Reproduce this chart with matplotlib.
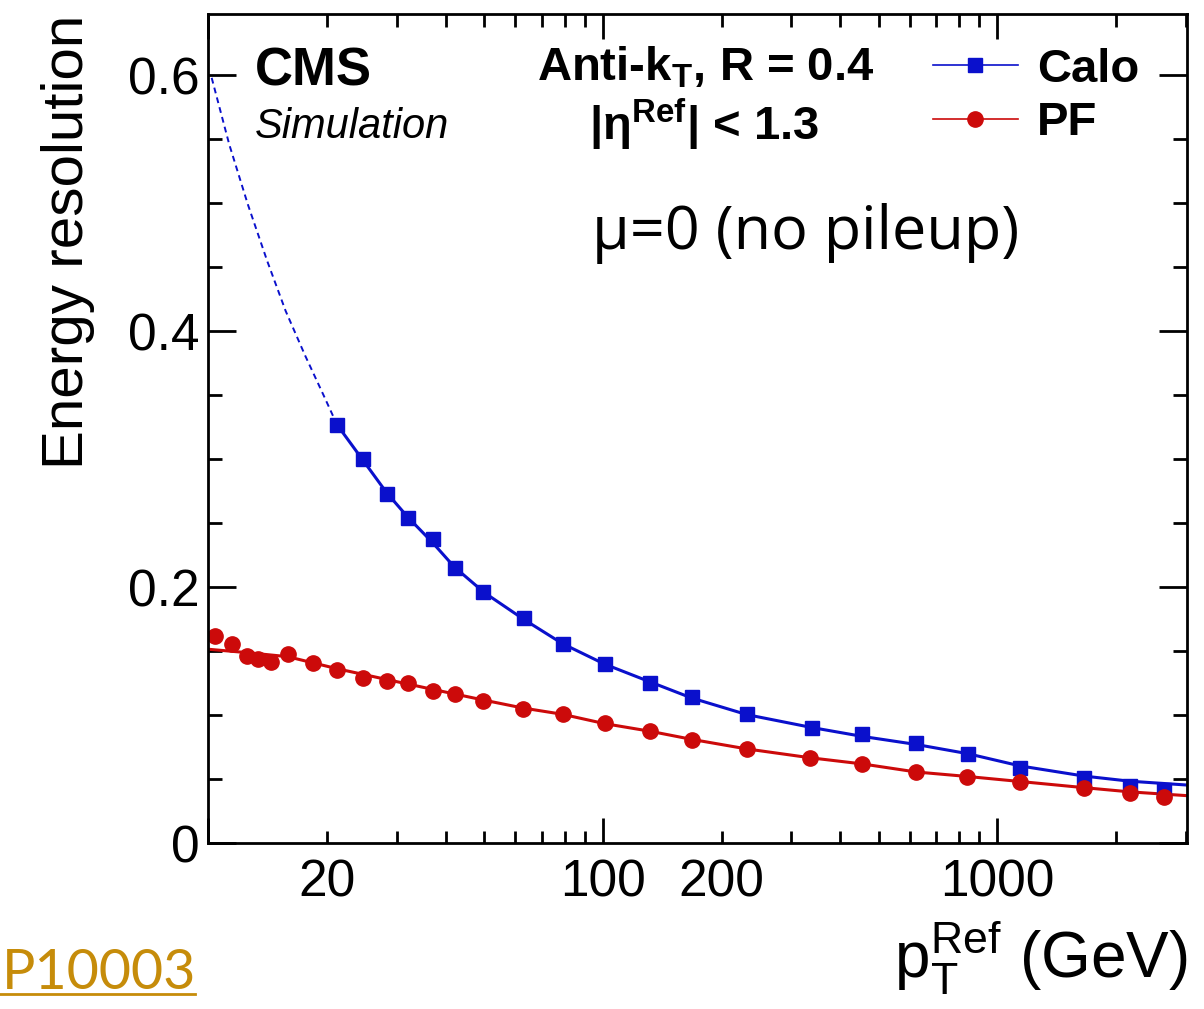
import matplotlib
matplotlib.use("Agg")
import matplotlib.pyplot as plt
from matplotlib.lines import Line2D
from matplotlib.ticker import FixedLocator, FuncFormatter, LogLocator

plt.rcParams["font.family"] = ["Liberation Sans", "DejaVu Sans"]
plt.rcParams["mathtext.fontset"] = "custom"
plt.rcParams["mathtext.rm"] = "Liberation Sans"
plt.rcParams["mathtext.bf"] = "Liberation Sans:bold"

BLUE = "#0a10cc"
RED = "#cc0a0a"

# data
calo_pt = [21.2, 24.7, 28.3, 32.0, 37.2, 42.2, 49.8, 63.0, 79.2, 101, 132, 168,
           232, 338, 455, 623, 842, 1140, 1660, 2170, 2650]
calo_res = [0.327, 0.300, 0.273, 0.254, 0.238, 0.215, 0.196, 0.176, 0.156, 0.140,
            0.125, 0.114, 0.101, 0.090, 0.085, 0.078, 0.070, 0.059, 0.051, 0.045, 0.042]

pf_pt = [10.4, 11.5, 12.5, 13.4, 14.4, 15.9, 18.4, 21.2, 24.7, 28.3, 32.0, 37.1,
         42.1, 49.7, 62.7, 79.2, 101, 132, 168, 232, 336, 455, 623, 840, 1140,
         1655, 2165, 2650]
pf_res = [0.162, 0.156, 0.146, 0.144, 0.142, 0.148, 0.141, 0.135, 0.129, 0.127,
          0.125, 0.119, 0.117, 0.111, 0.105, 0.101, 0.094, 0.088, 0.081, 0.074,
          0.067, 0.062, 0.056, 0.052, 0.048, 0.043, 0.039, 0.036]

# fit curves as drawn (dashed part = extrapolation below fit range)
calo_fit_lo_pt = [10.2, 11.3, 12.6, 14.1, 15.7, 17.6, 19.6, 21.2]
calo_fit_lo_res = [0.598, 0.546, 0.499, 0.455, 0.416, 0.381, 0.350, 0.327]
calo_fit_pt = [21.2, 24.7, 28.3, 32, 37, 42, 50, 63, 79, 101, 132, 168, 232, 338,
               455, 623, 842, 1140, 1660, 2170, 3030]
calo_fit_res = [0.327, 0.299, 0.274, 0.255, 0.235, 0.216, 0.196, 0.175, 0.156,
                0.140, 0.126, 0.1135, 0.1005, 0.0905, 0.0835, 0.0772, 0.0700,
                0.0605, 0.0525, 0.0485, 0.0455]
pf_fit_pt = [10, 12.5, 15.9, 21.2, 28.3, 37, 49.7, 62.7, 79, 101, 132, 168, 232,
             336, 455, 623, 840, 1140, 1655, 2165, 3030]
pf_fit_res = [0.1516, 0.149, 0.1458, 0.1364, 0.128, 0.1203, 0.112, 0.1057, 0.1008,
              0.0935, 0.0875, 0.0812, 0.0737, 0.0668, 0.062, 0.0557, 0.0522,
              0.0483, 0.0435, 0.0402, 0.0372]

y_major = [0, 0.2, 0.4, 0.6]
x_labelled = [20, 100, 200, 1000]

W, H = 1204, 1009
fig = plt.figure(figsize=(W / 100, H / 100), dpi=100)
ax = fig.add_axes([208.3 / W, 1 - 843.3 / H, 979 / W, 828.8 / H])

ax.plot(calo_fit_lo_pt, calo_fit_lo_res, color=BLUE, lw=1.4, ls=(0, (3, 2.2)))
ax.plot(calo_fit_pt, calo_fit_res, color=BLUE, lw=2.2)
ax.plot(pf_fit_pt, pf_fit_res, color=RED, lw=2.2)
ax.plot(calo_pt, calo_res, ls="none", marker="s", ms=10, color=BLUE)
ax.plot(pf_pt, pf_res, ls="none", marker="o", ms=11, color=RED)

ax.set_xscale("log")
ax.set_xlim(10, 3030)
ax.set_ylim(0, 0.6475)

ax.xaxis.set_major_locator(LogLocator(base=10))
ax.xaxis.set_minor_locator(LogLocator(base=10, subs=range(2, 10)))
lab = FuncFormatter(lambda v, p: f"{v:g}" if any(abs(v - t) < 1e-6 for t in x_labelled) else "")
ax.xaxis.set_major_formatter(lab)
ax.xaxis.set_minor_formatter(lab)
ax.yaxis.set_major_locator(FixedLocator(y_major))
ax.yaxis.set_minor_locator(FixedLocator([i * 0.05 for i in range(13)]))
ax.yaxis.set_major_formatter(FuncFormatter(lambda v, p: "0" if v == 0 else f"{v:.1f}"))

for s in ax.spines.values():
    s.set_linewidth(2)
ax.tick_params(which="both", direction="in", top=True, right=True, width=2,
               labelsize=37)
ax.tick_params(axis="y", which="major", length=20, pad=6)
ax.tick_params(axis="y", which="minor", length=10)
ax.tick_params(axis="x", which="major", length=18, pad=11)
ax.tick_params(axis="x", which="minor", length=9, pad=11)

fig.text(68 / W, 1 - 15 / H, "Energy resolution", rotation=90, ha="center",
         va="top", fontsize=42)
fig.text(1187 / W, 1 - 978 / H, r"$\mathregular{p_{T}^{Ref}}$ (GeV)", ha="right",
         va="baseline", fontsize=46)

fig.text(255 / W, 1 - 71 / H, "CMS", fontsize=38, fontweight="bold", va="center")
fig.text(255 / W, 1 - 127 / H, "Simulation", fontsize=30, style="italic", va="center")
fig.text(706 / W, 1 - 80 / H, r"Anti-k$_{\mathregular{T}}$, R = 0.4", fontsize=34,
         fontweight="bold", ha="center", va="baseline")
fig.text(704 / W, 1 - 140 / H, r"|η$^{\mathregular{Ref}}$| < 1.3", fontsize=34,
         fontweight="bold", ha="center", va="baseline")
fig.text(806 / W, 1 - 234 / H, "μ=0 (no pileup)", fontsize=44, family="Open Sans",
         ha="center", va="center")

handles = [
    Line2D([], [], color=BLUE, lw=1.2, marker="s", ms=10),
    Line2D([], [], color=RED, lw=1.2, marker="o", ms=11),
]
ax.legend(handles, ["Calo", "PF"], loc="upper left", bbox_to_anchor=(0.74, 0.96),
          frameon=False, borderpad=0, borderaxespad=0, handlelength=1.8,
          handletextpad=0.4, labelspacing=0.2,
          prop={"family": "Liberation Sans", "weight": "bold", "size": 34})

gold = "#c68c0a"
fig.text(2 / W, 1 - 989 / H, "P10003", fontsize=40, color=gold, family="Lato",
         ha="left", va="baseline")
fig.add_artist(Line2D([0, 195 / W], [1 - 994 / H, 1 - 994 / H], color=gold, lw=2))

fig.savefig("out.png", dpi=100)
